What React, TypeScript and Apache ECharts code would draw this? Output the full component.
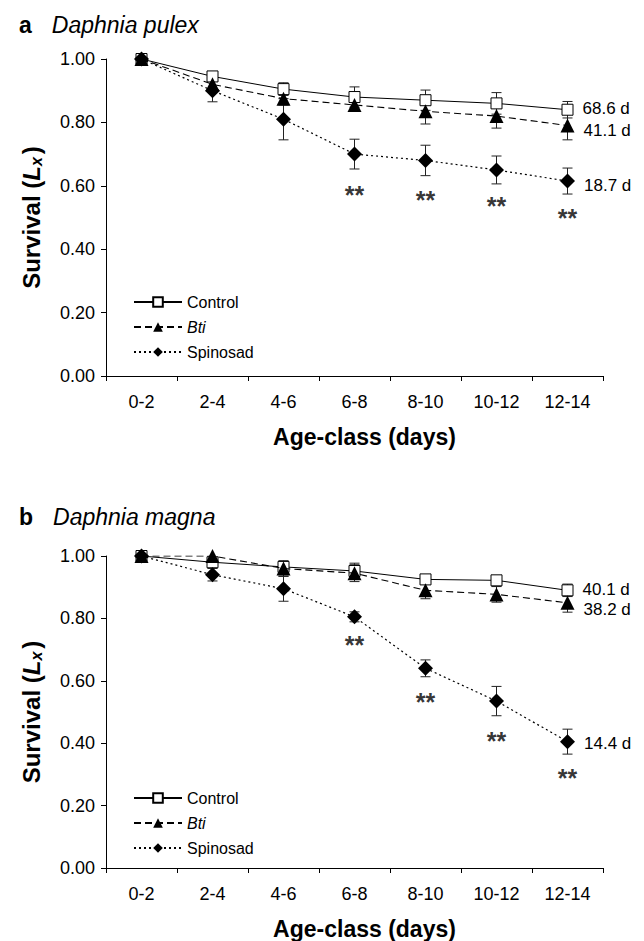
import React, { useEffect, useRef } from 'react';
import * as echarts from 'echarts';

const categories = ['0-2', '2-4', '4-6', '6-8', '8-10', '10-12', '12-14'];
const seriesNames = ['Control', 'Bti', 'Spinosad'];

// Panel a: Daphnia pulex
const pulexControl = [1.0, 0.945, 0.905, 0.88, 0.87, 0.86, 0.84];
const pulexControlErr = [0, 0.008, 0.02, 0.032, 0.032, 0.034, 0.026];
const pulexBti = [1.0, 0.92, 0.875, 0.855, 0.835, 0.82, 0.79];
const pulexBtiErr = [0, 0.015, 0.02, 0.015, 0.04, 0.038, 0.045];
const pulexSpinosad = [1.0, 0.9, 0.81, 0.7, 0.68, 0.65, 0.615];
const pulexSpinosadErr = [0, 0.035, 0.065, 0.047, 0.048, 0.044, 0.041];
const pulexStars = [null, null, null, 0.585, 0.569, 0.55, 0.511];
const pulexEndLabels = ['68.6 d', '41.1 d', '18.7 d'];

// Panel b: Daphnia magna
const magnaControl = [1.0, 0.98, 0.965, 0.952, 0.925, 0.922, 0.89];
const magnaControlErr = [0, 0.01, 0.015, 0.025, 0.01, 0.01, 0.02];
const magnaBti = [1.0, 1.0, 0.96, 0.945, 0.89, 0.877, 0.85];
const magnaBtiErr = [0, 0, 0.025, 0.027, 0.027, 0.025, 0.03];
const magnaSpinosad = [1.0, 0.94, 0.895, 0.805, 0.64, 0.535, 0.405];
const magnaSpinosadErr = [0, 0.02, 0.04, 0.016, 0.027, 0.047, 0.04];
const magnaStars = [null, null, null, 0.729, 0.545, 0.421, 0.3];
const magnaEndLabels = ['40.1 d', '38.2 d', '14.4 d'];

const yTickLabels = ['0.00', '0.20', '0.40', '0.60', '0.80', '1.00'];

const FONT = '"Liberation Sans", Arial, Helvetica, sans-serif';

const styles = [
  {
    symbol: 'rect',
    symbolSize: 11,
    itemStyle: { color: '#fff', borderColor: '#000', borderWidth: 1 },
    lineStyle: { color: '#000', width: 1, type: 'solid' as any },
  },
  {
    symbol: 'triangle',
    symbolSize: 14,
    itemStyle: { color: '#000', borderColor: '#000', borderWidth: 0 },
    lineStyle: { color: '#000', width: 1.1, type: [7, 4] as any },
  },
  {
    symbol: 'diamond',
    symbolSize: 15,
    itemStyle: { color: '#000', borderColor: '#000', borderWidth: 0 },
    lineStyle: { color: '#000', width: 1.2, type: [2, 3] as any },
  },
];

function lineSeries(g: number, idx: number, vals: number[], endLabel: string, labelOffset: number[]) {
  const s = styles[idx];
  return {
    type: 'line',
    name: seriesNames[idx],
    xAxisIndex: g,
    yAxisIndex: g,
    symbol: s.symbol,
    symbolSize: s.symbolSize,
    showAllSymbol: true,
    itemStyle: s.itemStyle,
    lineStyle: s.lineStyle,
    z: 5 + idx,
    data: vals.map((v, i) =>
      i === vals.length - 1
        ? {
            value: v,
            label: {
              show: true,
              position: 'right',
              distance: 9,
              offset: labelOffset,
              formatter: endLabel,
              color: '#000',
              fontSize: 17,
              fontFamily: FONT,
            },
          }
        : v
    ),
  };
}

function errorSeries(g: number, vals: number[], errs: number[]) {
  const data: number[][] = [];
  vals.forEach((v, i) => {
    if (errs[i] > 0) data.push([i, v - errs[i], v + errs[i]]);
  });
  return {
    type: 'custom',
    xAxisIndex: g,
    yAxisIndex: g,
    z: 3,
    silent: true,
    encode: { x: 0, y: [1, 2] },
    data,
    renderItem: (params: any, api: any) => {
      const lo = api.coord([api.value(0), api.value(1)]);
      const hi = api.coord([api.value(0), api.value(2)]);
      const hw = 5;
      const st = { stroke: '#222', lineWidth: 1 };
      return {
        type: 'group',
        children: [
          { type: 'line', shape: { x1: hi[0], y1: hi[1], x2: lo[0], y2: lo[1] }, style: st },
          { type: 'line', shape: { x1: hi[0] - hw, y1: hi[1], x2: hi[0] + hw, y2: hi[1] }, style: st },
          { type: 'line', shape: { x1: lo[0] - hw, y1: lo[1], x2: lo[0] + hw, y2: lo[1] }, style: st },
        ],
      };
    },
  };
}

function starSeries(g: number, stars: (number | null)[]) {
  const data: number[][] = [];
  stars.forEach((v, i) => {
    if (v != null) data.push([i, v]);
  });
  return {
    type: 'scatter',
    xAxisIndex: g,
    yAxisIndex: g,
    symbol: 'circle',
    symbolSize: 1,
    itemStyle: { color: 'rgba(0,0,0,0)' },
    silent: true,
    z: 10,
    label: {
      show: true,
      position: 'inside',
      offset: [0, 4],
      formatter: '**',
      color: '#000',
      fontSize: 25,
      fontWeight: 'bold',
      fontFamily: FONT,
    },
    data,
  };
}

function xAxis(g: number) {
  return {
    gridIndex: g,
    type: 'category',
    data: categories,
    boundaryGap: true,
    axisLine: { show: true, lineStyle: { color: '#000', width: 1 } },
    axisTick: { show: true, interval: 0, length: 5, lineStyle: { color: '#000' } },
    axisLabel: { interval: 0, fontSize: 18, margin: 17, color: '#000', fontFamily: FONT },
    splitLine: { show: false },
    name: 'Age-class (days)',
    nameLocation: 'middle',
    nameGap: 49,
    nameTextStyle: {
      fontWeight: 'bold',
      fontSize: 23,
      color: '#000',
      fontFamily: FONT,
      padding: [0, 0, 0, 20],
    },
  };
}

function yAxis(g: number) {
  return {
    gridIndex: g,
    type: 'value',
    min: 0,
    max: 1,
    interval: 0.2,
    axisLine: { show: true, lineStyle: { color: '#000', width: 1 } },
    axisTick: { show: true, length: 5, lineStyle: { color: '#000' } },
    splitLine: { show: false },
    axisLabel: {
      formatter: (v: number) => yTickLabels[Math.round(v / 0.2)],
      fontSize: 18,
      margin: 11,
      color: '#000',
      fontFamily: FONT,
    },
    name: '{n|Survival (}{l|L}{s|x}{n|)}',
    nameLocation: 'middle',
    nameGap: 62,
    nameTextStyle: {
      color: '#000',
      fontFamily: FONT,
      fontWeight: 'bold',
      fontSize: 24,
      rich: {
        n: { fontWeight: 'bold', fontSize: 24, fontFamily: FONT, color: '#000' },
        l: { fontWeight: 'bold', fontStyle: 'italic', fontSize: 24, fontFamily: FONT, color: '#000' },
        s: {
          fontWeight: 'bold',
          fontStyle: 'italic',
          fontSize: 16,
          fontFamily: FONT,
          color: '#000',
          padding: [10, 3, 0, 0],
        },
      },
    },
  };
}

function legend(top: number) {
  return {
    orient: 'vertical',
    left: 128,
    top,
    itemWidth: 48,
    itemHeight: 12,
    itemGap: 9,
    selectedMode: false,
    textStyle: { fontSize: 16, color: '#000', fontFamily: FONT },
    data: [
      { name: 'Control' },
      { name: 'Bti', textStyle: { fontStyle: 'italic', fontSize: 16, fontFamily: FONT } },
      { name: 'Spinosad' },
    ],
  };
}

function title(letter: string, species: string, top: number) {
  return {
    text: `{b|${letter}}{i|${species}}`,
    left: 14,
    top,
    textStyle: {
      rich: {
        b: { fontWeight: 'bold', fontSize: 23, fontFamily: FONT, color: '#000', padding: [0, 20, 0, 0] },
        i: { fontWeight: 'normal', fontStyle: 'italic', fontSize: 23, fontFamily: FONT, color: '#000' },
      },
    },
  };
}

export default function App() {
  const ref = useRef<HTMLDivElement>(null);
  useEffect(() => {
    if (!ref.current) return;
    const chart = echarts.init(ref.current, undefined, { renderer: 'svg' });
    chart.setOption({
      animation: false,
      backgroundColor: '#fff',
      title: [title('a', 'Daphnia pulex', 8), title('b', 'Daphnia magna', 500)],
      legend: [legend(289), legend(785)],
      grid: [
        { left: 106, width: 497, top: 59, height: 317 },
        { left: 106, width: 497, top: 556, height: 316.5 },
      ],
      xAxis: [xAxis(0), xAxis(1)],
      yAxis: [yAxis(0), yAxis(1)],
      series: [
        errorSeries(0, pulexControl, pulexControlErr),
        errorSeries(0, pulexBti, pulexBtiErr),
        errorSeries(0, pulexSpinosad, pulexSpinosadErr),
        lineSeries(0, 0, pulexControl, pulexEndLabels[0], [0, -1]),
        lineSeries(0, 1, pulexBti, pulexEndLabels[1], [0, 5]),
        lineSeries(0, 2, pulexSpinosad, pulexEndLabels[2], [0, 4]),
        starSeries(0, pulexStars),
        errorSeries(1, magnaControl, magnaControlErr),
        errorSeries(1, magnaBti, magnaBtiErr),
        errorSeries(1, magnaSpinosad, magnaSpinosadErr),
        lineSeries(1, 0, magnaControl, magnaEndLabels[0], [0, -1]),
        lineSeries(1, 1, magnaBti, magnaEndLabels[1], [0, 7]),
        lineSeries(1, 2, magnaSpinosad, magnaEndLabels[2], [0, 2]),
        starSeries(1, magnaStars),
      ],
    });
    return () => chart.dispose();
  }, []);
  return (
    <div
      ref={ref}
      style={{ position: 'fixed', left: 0, top: 0, width: 644, height: 941, background: '#fff' }}
    />
  );
}
